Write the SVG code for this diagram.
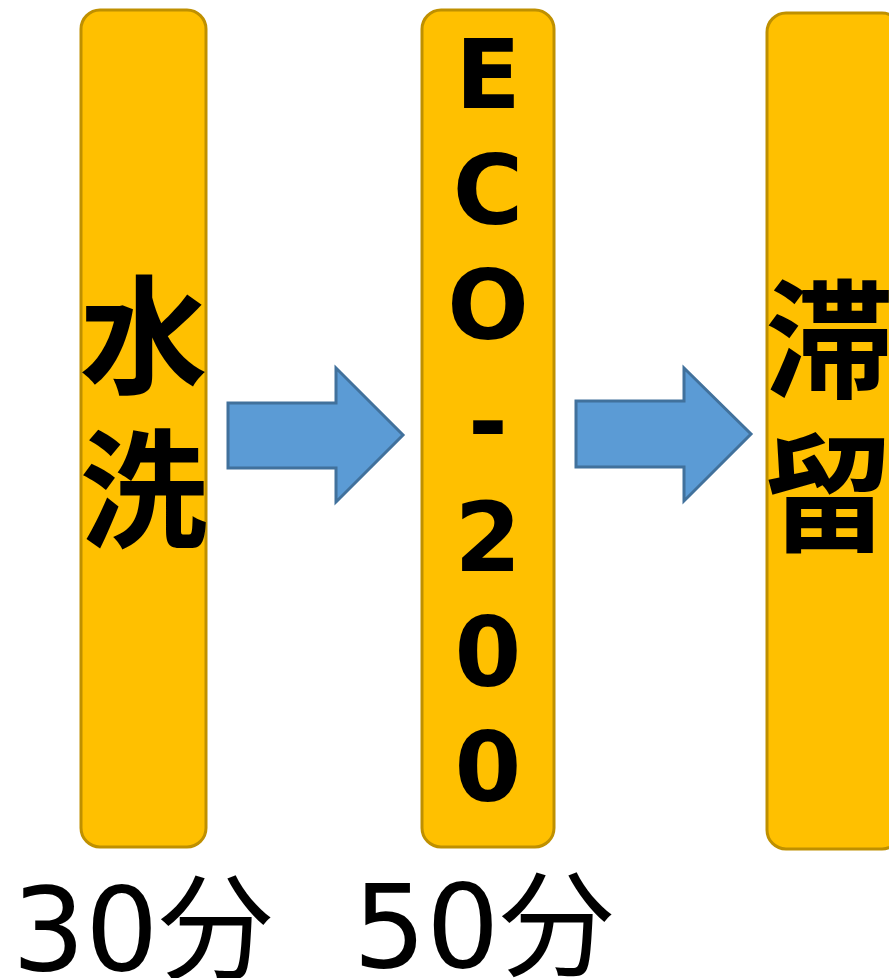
<svg xmlns="http://www.w3.org/2000/svg" width="889" height="978" viewBox="0 0 889 978">
<style>
.box{fill:#FFC000;stroke:#BF9000;stroke-width:3}
.arr{fill:#5B9BD5;stroke:#41719C;stroke-width:3}
.cjk{font-family:"DejaVu Sans","Noto Sans CJK JP",sans-serif;font-weight:bold;font-size:128px;text-anchor:middle;fill:#000}
.lat{font-family:"DejaVu Sans","Noto Sans CJK JP",sans-serif;font-weight:bold;font-size:96px;text-anchor:middle;fill:#000}
.lbl{font-family:"DejaVu Sans","Noto Sans CJK JP",sans-serif;font-size:115px;fill:#000}
</style>
<rect width="889" height="978" fill="#fff"/>
<g id="node-wash">
<rect class="box" x="81" y="10" width="125" height="837" rx="19"/>
<text class="cjk" x="143.5" y="384">水</text>
<text class="cjk" x="143.5" y="538">洗</text>
</g>
<g id="node-eco">
<rect class="box" x="422" y="10" width="132" height="837" rx="19"/>
<text class="lat" x="488" y="108">E</text>
<text class="lat" x="488" y="224">C</text>
<text class="lat" x="488" y="339">O</text>
<text class="lat" x="488" y="455">-</text>
<text class="lat" x="488" y="571">2</text>
<text class="lat" x="488" y="686">0</text>
<text class="lat" x="488" y="801">0</text>
</g>
<g id="node-stay">
<rect class="box" x="767" y="13" width="134" height="836" rx="19"/>
<text class="cjk" x="829" y="388">滞</text>
<text class="cjk" x="829" y="542">留</text>
</g>
<g id="connectors">
<polygon class="arr" points="228,403 336,403 336,368 403,435 336,502 336,468 228,468"/>
<polygon class="arr" points="576,401 684,401 684,368 751,434 684,501 684,467 576,467"/>
</g>
<g id="labels">
<text class="lbl" x="12" y="970">30分</text>
<text class="lbl" x="353" y="967">50分</text>
</g>
</svg>
